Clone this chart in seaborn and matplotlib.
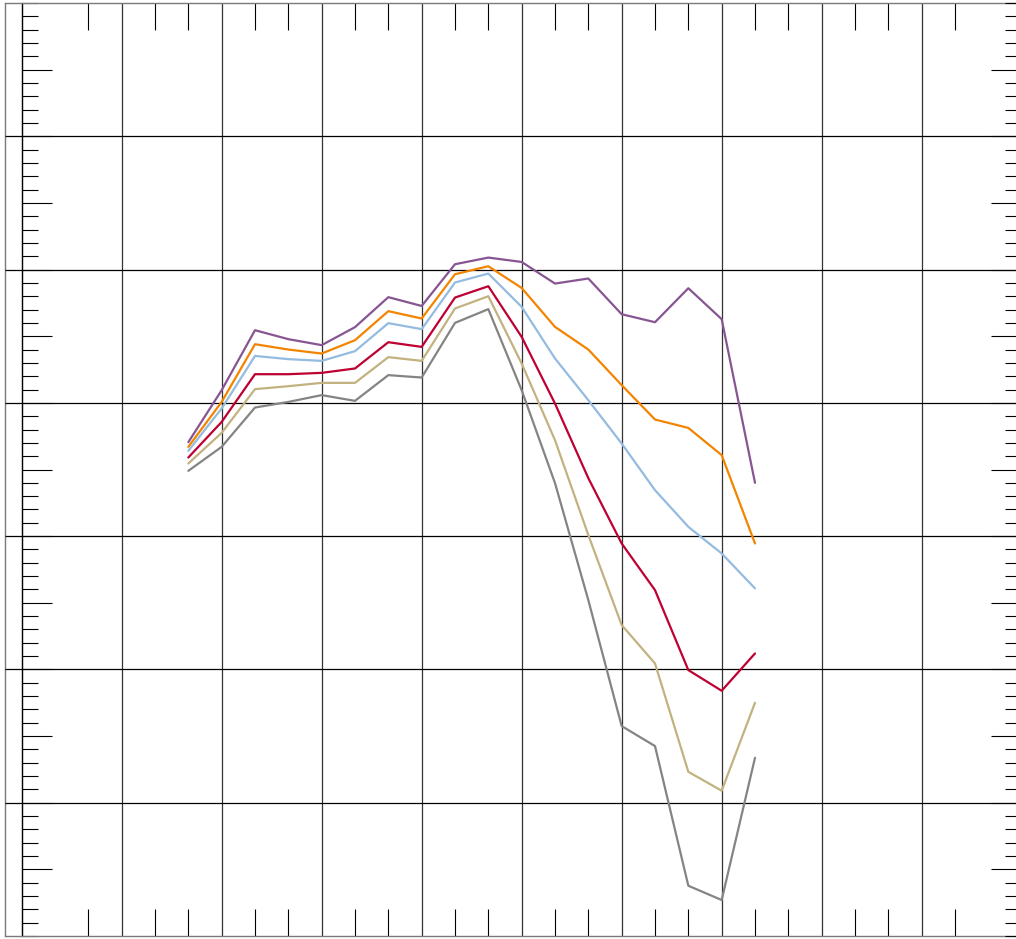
import numpy as np
import pandas as pd
import matplotlib
matplotlib.use("Agg")
import matplotlib.pyplot as plt
import seaborn as sns
from matplotlib.ticker import FixedLocator, MultipleLocator

# x positions shared by every series
steps = list(range(5, 23))

purple = [37.05, 40.95, 45.45, 44.78, 44.33, 45.68, 47.93, 47.27, 50.40, 50.90,
          50.57, 48.95, 49.33, 46.65, 46.05, 48.60, 46.28, 34.00]
orange = [36.70, 40.07, 44.40, 44.00, 43.70, 44.70, 46.88, 46.33, 49.65, 50.25,
          48.62, 45.70, 44.00, 41.33, 38.75, 38.12, 36.08, 29.45]
blue = [36.40, 39.58, 43.52, 43.28, 43.15, 43.88, 45.98, 45.53, 49.03, 49.70,
        47.20, 43.33, 40.20, 36.95, 33.45, 30.70, 28.70, 26.08]
red = [35.90, 38.57, 42.15, 42.15, 42.25, 42.58, 44.55, 44.20, 47.90, 48.75,
       44.95, 39.95, 34.35, 29.45, 25.95, 19.95, 18.40, 21.20]
tan = [35.45, 37.75, 41.03, 41.25, 41.50, 41.50, 43.43, 43.15, 47.08, 48.00,
       42.95, 37.20, 30.08, 23.33, 20.45, 12.32, 10.90, 17.50]
grey = [34.90, 36.70, 39.65, 40.07, 40.58, 40.15, 42.08, 41.90, 46.00, 47.03,
        40.95, 33.98, 25.20, 15.75, 14.25, 3.77, 2.70, 13.37]

series_names = ["purple", "orange", "blue", "red", "tan", "grey"]
series_values = [purple, orange, blue, red, tan, grey]
colors = ["#875692", "#F38400", "#94BBE0", "#BE0032", "#C2B280", "#848482"]

# tick layout
x_major = list(range(0, 28, 3))
x_minor = [2, 4, 5, 7, 8, 10, 11, 13, 14, 16, 17, 19, 20, 22, 23, 25, 26, 28]
y_mid = list(range(5, 70, 5))

frames = [pd.DataFrame({"step": steps, "value": vals, "series": name})
          for name, vals in zip(series_names, series_values)]
df = pd.concat(frames, ignore_index=True)

sns.set_theme(style="white")
fig = plt.figure(figsize=(10.16, 9.39), dpi=100)
fig.patch.set_linewidth(0)
ax = fig.add_axes([5 / 1016, 3 / 939, 1040 / 1016, 933 / 939])
ax.patch.set_visible(False)

sns.lineplot(data=df, x="step", y="value", hue="series", hue_order=series_names,
             palette=colors, linewidth=1.6, legend=False, ax=ax, zorder=3)

# axes run a little past the right edge of the canvas
ax.set_xlim(-0.5, 30.7)
ax.set_ylim(0, 70)

# axis frame
for side in ["top", "bottom"]:
    ax.spines[side].set_visible(True)
    ax.spines[side].set_color("#7a7a7a")
    ax.spines[side].set_linewidth(1.0)
ax.spines["right"].set_visible(False)
ax.spines["left"].set_position(("data", 0))
ax.spines["left"].set_color("black")
ax.spines["left"].set_linewidth(0.9)
ax.axvline(-0.5, color="#7a7a7a", lw=1.0, clip_on=False, zorder=1)

# ticks
ax.xaxis.set_major_locator(FixedLocator(x_major))
ax.xaxis.set_minor_locator(FixedLocator(x_minor))
ax.yaxis.set_major_locator(FixedLocator(y_mid))
ax.yaxis.set_minor_locator(MultipleLocator(1))
ax.tick_params(axis="x", which="major", length=0, top=True, bottom=True,
               labelbottom=False, labeltop=False)
ax.tick_params(axis="x", which="minor", length=19.4, width=0.8, color="black",
               direction="in", top=True, bottom=True)
ax.tick_params(axis="y", which="major", length=21.6, width=0.8, color="black",
               direction="in", left=True, right=False, labelleft=False, labelright=False)
ax.tick_params(axis="y", which="minor", length=11.5, width=0.8, color="black",
               direction="in", left=True, right=False)

# right-hand y ticks on a second axis whose spine sits just off the canvas
ax_r = fig.add_axes([5 / 1016, 3 / 939, 1016 / 1016, 933 / 939], sharey=ax)
ax_r.patch.set_visible(False)
for side in ax_r.spines:
    ax_r.spines[side].set_visible(False)
ax_r.set_xticks([])
ax_r.yaxis.set_major_locator(FixedLocator(y_mid))
ax_r.yaxis.set_minor_locator(MultipleLocator(1))
ax_r.tick_params(axis="y", which="major", length=21.6, width=0.8, color="black",
                 direction="in", left=False, right=True, labelleft=False, labelright=False)
ax_r.tick_params(axis="y", which="minor", length=11.5, width=0.8, color="black",
                 direction="in", left=False, right=True)
ax.set_ylim(0, 70)

# grid
ax.grid(axis="x", which="major", color="#333333", linewidth=0.9)
ax.hlines(np.arange(10, 70, 10), -0.5, 30.7, colors="black", linewidth=0.9, zorder=1)
ax.set_xlabel("")
ax.set_ylabel("")

fig.savefig("out.png", dpi=100)
